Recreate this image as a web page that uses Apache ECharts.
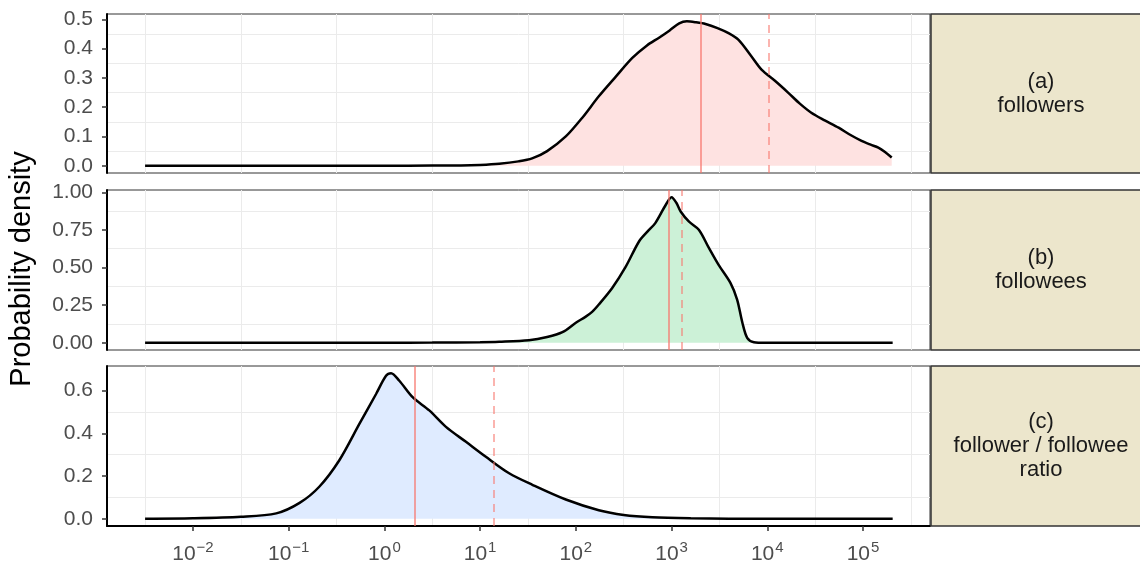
<!DOCTYPE html>
<html>
<head>
<meta charset="utf-8">
<script src="https://cdn.jsdelivr.net/npm/echarts@6/dist/echarts.min.js"></script>
<style>
  html, body { margin: 0; padding: 0; background: #fff; }
  #chart { width: 1140px; height: 567px; }
</style>
</head>
<body>
<div id="chart"></div>
<script>
const followersLog10 = [-2.5, -2, -1.5, -1, -0.5, 0, 0.5, 0.8, 1.0, 1.2, 1.4, 1.543, 1.7, 1.895, 2.07, 2.24, 2.42, 2.59, 2.74, 2.873, 2.98, 3.08, 3.16, 3.25, 3.355, 3.48, 3.6, 3.7, 3.82, 3.94, 4.08, 4.22, 4.34, 4.46, 4.6, 4.745, 4.87, 4.985, 5.08, 5.16, 5.23, 5.3];
const followersDensity = [0, 0, 0, 0, 0, 0, 0.0005, 0.001, 0.003, 0.007, 0.015, 0.025, 0.05, 0.1, 0.165, 0.237, 0.305, 0.368, 0.41, 0.438, 0.462, 0.486, 0.493, 0.49, 0.484, 0.47, 0.452, 0.43, 0.38, 0.328, 0.29, 0.249, 0.212, 0.181, 0.155, 0.13, 0.105, 0.085, 0.072, 0.062, 0.047, 0.028];

const followeesLog10 = [-2.5, -2, -1.5, -1, -0.5, 0, 0.5, 1.0, 1.2, 1.51, 1.7, 1.86, 2.0, 2.1, 2.17, 2.24, 2.38, 2.52, 2.66, 2.75, 2.83, 2.94, 3.0, 3.05, 3.095, 3.18, 3.285, 3.39, 3.49, 3.615, 3.685, 3.74, 3.79, 3.86, 3.98, 4.5, 5, 5.31];
const followeesDensity = [0, 0, 0, 0, 0, 0, 0.001, 0.004, 0.007, 0.017, 0.038, 0.07, 0.133, 0.172, 0.205, 0.254, 0.364, 0.504, 0.673, 0.74, 0.795, 0.917, 0.967, 0.93, 0.872, 0.806, 0.751, 0.63, 0.519, 0.398, 0.287, 0.133, 0.033, 0.004, 0, 0, 0, 0];

const ratioLog10 = [-2.5, -2, -1.5, -1.13, -0.886, -0.678, -0.469, -0.26, -0.087, 0.017, 0.07, 0.156, 0.295, 0.469, 0.643, 0.852, 1.06, 1.303, 1.546, 1.895, 2.24, 2.5, 2.8, 3.2, 3.6, 4, 4.5, 5, 5.31];
const ratioDensity = [0, 0.002, 0.009, 0.025, 0.074, 0.151, 0.275, 0.445, 0.584, 0.669, 0.681, 0.646, 0.569, 0.507, 0.43, 0.36, 0.29, 0.213, 0.159, 0.09, 0.04, 0.018, 0.007, 0.002, 0.0005, 0, 0, 0, 0];

// median (solid) and mean (dashed), log10
const medianLog10 = [3.305, 2.97, 0.32];
const meanLog10 = [4.02, 3.11, 1.144];

const stripLabels = ['(a)\nfollowers', '(b)\nfollowees', '(c)\nfollower / followee\nratio'];
const fillColors = ['#FEE2E1', '#CCF1D7', '#DFEBFF'];

const xMajor = [-2, -1, 0, 1, 2, 3, 4, 5];
const xMinor = [-2.5, -1.5, -0.5, 0.5, 1.5, 2.5, 3.5, 4.5, 5.5];
const yMajor = [[0, 0.1, 0.2, 0.3, 0.4, 0.5], [0, 0.25, 0.5, 0.75, 1], [0, 0.2, 0.4, 0.6]];
const yMinor = [[0.05, 0.15, 0.25, 0.35, 0.45], [0.125, 0.375, 0.625, 0.875], [0.1, 0.3, 0.5]];
const yRange = [[-0.0247, 0.518], [-0.048, 1.015], [-0.034, 0.715]];
const yDigits = [1, 2, 1];
const xRange = [-2.898, 5.70];

const panelTops = [14, 190, 366];
const panelHeights = [159, 160, 160];
const plotLeft = 107, plotRight = 930;

const font = '"Liberation Sans", Arial, Helvetica, sans-serif';
const curves = [
  [followersLog10, followersDensity],
  [followeesLog10, followeesDensity],
  [ratioLog10, ratioDensity]
];

const chart = echarts.init(document.getElementById('chart'), null, { renderer: 'canvas' });

const grids = [], xAxes = [], yAxes = [], series = [], graphics = [];

panelTops.forEach((top, i) => {
  grids.push({
    left: plotLeft, width: plotRight - plotLeft, top: top, height: panelHeights[i],
    show: true, borderColor: '#333', borderWidth: 1, backgroundColor: 'transparent'
  });
  const last = i === panelTops.length - 1;
  // main x axis (ticks/labels only on bottom panel)
  xAxes.push({
    type: 'value', gridIndex: i, min: xRange[0], max: xRange[1],
    axisLine: { show: last, onZero: false, lineStyle: { color: '#000', width: 2 } },
    axisTick: { show: last, length: 5, customValues: xMajor, lineStyle: { color: '#333', width: 1.5 } },
    axisLabel: {
      show: last, customValues: xMajor, margin: 14,
      formatter: v => '{b|10}{s|' + String(v).replace('-', '\u2212') + '}',
      rich: {
        b: { fontSize: 21, color: '#4D4D4D', fontFamily: font, verticalAlign: 'bottom' },
        s: { fontSize: 15, color: '#4D4D4D', fontFamily: font, verticalAlign: 'bottom', padding: [0, 0, 10, 1] }
      }
    },
    splitLine: { show: false }
  });
  // main y axis
  yAxes.push({
    type: 'value', gridIndex: i, min: yRange[i][0], max: yRange[i][1],
    axisLine: { show: true, onZero: false, lineStyle: { color: '#000', width: 2 } },
    axisTick: { show: true, length: 5, customValues: yMajor[i], lineStyle: { color: '#333', width: 1.5 } },
    axisLabel: {
      customValues: yMajor[i], margin: 14, fontSize: 21, color: '#4D4D4D', fontFamily: font,
      formatter: v => v.toFixed(yDigits[i])
    },
    splitLine: { show: false }
  });
});

// hidden axes that only carry the minor grid lines
panelTops.forEach((top, i) => {
  xAxes.push({
    type: 'value', gridIndex: i, min: xRange[0], max: xRange[1],
    axisLine: { show: false }, axisLabel: { show: false },
    axisTick: { show: false, customValues: xMinor },
    splitLine: { show: true, lineStyle: { color: '#EBEBEB', width: 1 } }
  });
  yAxes.push({
    type: 'value', gridIndex: i, min: yRange[i][0], max: yRange[i][1],
    axisLine: { show: false }, axisLabel: { show: false },
    axisTick: { show: false, customValues: yMinor[i] },
    splitLine: { show: true, lineStyle: { color: '#EBEBEB', width: 1 } }
  });
});

curves.forEach(([xs, ys], i) => {
  series.push({
    type: 'line', xAxisIndex: i, yAxisIndex: i,
    data: xs.map((x, k) => [x, ys[k]]),
    smooth: 0.3, showSymbol: false, silent: true,
    lineStyle: { color: '#000', width: 2.5 },
    areaStyle: { color: fillColors[i], opacity: 1, origin: 0 },
    z: 2,
    markLine: {
      silent: true, symbol: 'none', label: { show: false },
      data: [
        { xAxis: medianLog10[i], lineStyle: { color: 'rgba(248,118,109,0.65)', width: 2, type: 'solid' } },
        { xAxis: meanLog10[i], lineStyle: { color: 'rgba(248,118,109,0.55)', width: 2, type: [8, 6] } }
      ]
    }
  });

  // facet strip on the right
  const top = panelTops[i], h = panelHeights[i];
  graphics.push({
    type: 'rect', shape: { x: 931, y: top, width: 230, height: h },
    style: { fill: '#ECE6CC', stroke: '#333', lineWidth: 1.5 }, z: 10
  });
  graphics.push({
    type: 'text', x: 1041, y: top + h / 2, z: 11,
    style: {
      text: stripLabels[i], align: 'center', verticalAlign: 'middle',
      font: '22px ' + font, fill: '#1A1A1A', lineHeight: 24
    }
  });
});

graphics.push({
  type: 'text', x: 22, y: 269, rotation: Math.PI / 2,
  style: {
    text: 'Probability density', align: 'center', verticalAlign: 'middle',
    font: '29px ' + font, fill: '#000'
  }
});

chart.setOption({
  animation: false,
  backgroundColor: '#fff',
  grid: grids,
  xAxis: xAxes,
  yAxis: yAxes,
  series: series,
  graphic: graphics
});
</script>
</body>
</html>
